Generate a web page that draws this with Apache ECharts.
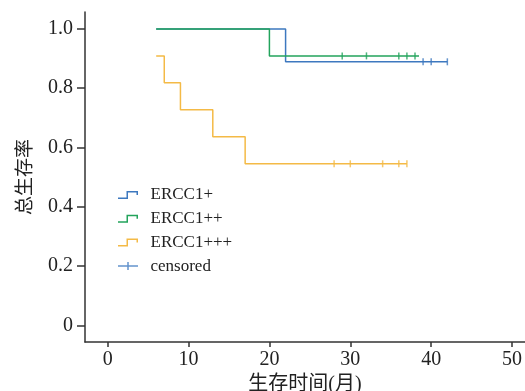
<!DOCTYPE html>
<html>
<head>
<meta charset="utf-8">
<script src="https://cdn.jsdelivr.net/npm/echarts@6/dist/echarts.min.js"></script>
<style>
  html, body { margin: 0; padding: 0; background: #fff; }
  #chart { width: 525px; height: 391px; }
</style>
</head>
<body>
<div id="chart"></div>
<script>
// survival curves (time in months, survival proportion)
const plusTimes = [6, 22, 42];
const plusSurv = [1, 0.889, 0.889];
const plus2Times = [6, 20, 38.5];
const plus2Surv = [1, 0.909, 0.909];
const plus3Times = [6, 7, 9, 13, 17, 37];
const plus3Surv = [0.909, 0.818, 0.727, 0.636, 0.545, 0.545];

// censored observations
const plusCens = [39, 40, 42];
const plus2Cens = [29, 32, 36, 37, 38];
const plus3Cens = [28, 30, 34, 36, 37];

const xTicks = [0, 10, 20, 30, 40, 50];
const yTicks = [0, 0.2, 0.4, 0.6, 0.8, 1.0];

const BLUE = '#3d78bf';
const GREEN = '#23a45c';
const ORANGE = '#f4ba46';
const SERIF = "'Liberation Serif', 'DejaVu Serif', 'Noto Sans CJK SC', serif";

const STEP_ICON = 'path://M0,6.5L8.5,6.5L8.5,0L20,0L20,4L18.5,4L18.5,1.5L10,1.5L10,8L0,8Z';
const CENS_ICON = 'path://M0,3.25H9.25V0H10.75V3.25H20V4.75H10.75V8H9.25V4.75H0Z';

const pairs = (xs, ys) => xs.map((x, i) => [x, ys[i]]);
const censPairs = (xs, y) => xs.map((x) => [x, y]);

const chart = echarts.init(document.getElementById('chart'));

const stepSeries = (name, xs, ys, color) => ({
  name,
  type: 'line',
  step: 'end',
  data: pairs(xs, ys),
  showSymbol: false,
  symbol: 'none',
  lineStyle: { color, width: 1.5 },
  itemStyle: { color },
  animation: false,
});

const censSeries = (name, xs, y, color) => ({
  name,
  type: 'scatter',
  data: censPairs(xs, y),
  symbol: 'rect',
  symbolSize: [1.5, 7],
  itemStyle: { color },
  animation: false,
});

chart.setOption({
  backgroundColor: '#fff',
  grid: { left: 85, right: 0, top: 12, bottom: 49, outerBoundsMode: 'none', containLabel: false },
  legend: {
    orient: 'vertical',
    left: 113,
    top: 181,
    itemWidth: 23,
    itemHeight: 8,
    itemGap: 5.7,
    textStyle: { fontFamily: SERIF, fontSize: 17, color: '#222', lineHeight: 18, padding: [0, 0, 0, 6] },
    data: [
      { name: 'ERCC1+', icon: STEP_ICON },
      { name: 'ERCC1++', icon: STEP_ICON },
      { name: 'ERCC1+++', icon: STEP_ICON },
      { name: 'censored', icon: CENS_ICON },
    ],
  },
  xAxis: {
    type: 'value',
    min: -2.8,
    max: 51.6,
    name: '生存时间(月)',
    nameLocation: 'middle',
    nameGap: 32,
    nameTextStyle: { fontFamily: SERIF, fontSize: 20, color: '#222' },
    axisLine: { onZero: false, lineStyle: { color: '#333', width: 1.5 } },
    axisTick: { show: true, length: 5, customValues: xTicks, lineStyle: { color: '#333', width: 1.5 } },
    axisLabel: { customValues: xTicks, margin: 8, fontFamily: SERIF, fontSize: 20, color: '#222' },
    splitLine: { show: false },
  },
  yAxis: {
    type: 'value',
    min: -0.056,
    max: 1.057,
    name: '总生存率',
    nameLocation: 'middle',
    nameGap: 49,
    nameRotate: 90,
    nameTextStyle: { fontFamily: SERIF, fontSize: 19, color: '#222' },
    axisLine: { show: true, onZero: false, lineStyle: { color: '#333', width: 1.5 } },
    axisTick: { show: true, length: 8, customValues: yTicks, lineStyle: { color: '#333', width: 1.5 } },
    axisLabel: {
      customValues: yTicks,
      margin: 12,
      fontFamily: SERIF,
      fontSize: 20,
      color: '#222',
      formatter: (v) => (v === 0 ? '0' : v.toFixed(1)),
    },
    splitLine: { show: false },
  },
  series: [
    stepSeries('ERCC1+', plusTimes, plusSurv, BLUE),
    stepSeries('ERCC1++', plus2Times, plus2Surv, GREEN),
    stepSeries('ERCC1+++', plus3Times, plus3Surv, ORANGE),
    censSeries('censored', plusCens, 0.889, BLUE),
    censSeries('censored ++', plus2Cens, 0.909, GREEN),
    censSeries('censored +++', plus3Cens, 0.545, ORANGE),
  ],
});
</script>
</body>
</html>
